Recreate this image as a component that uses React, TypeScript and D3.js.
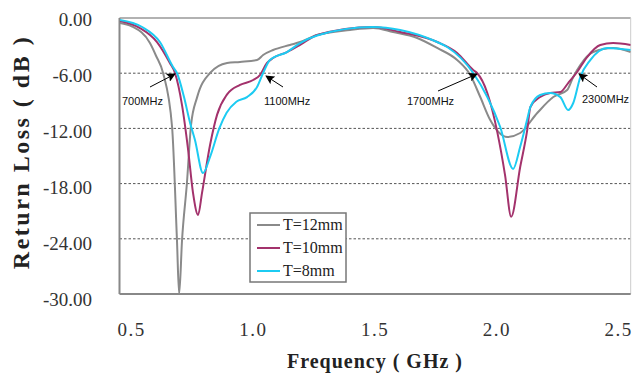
import React from "react";
import * as d3 from "d3";

const xTicks = [0.5, 1.0, 1.5, 2.0, 2.5];
const yTicks = [0, -6, -12, -18, -24, -30];
const gridValues = [-6, -12, -18, -24];

const grayF = [0.452, 0.5, 0.575, 0.6, 0.629, 0.666, 0.686, 0.695, 0.707, 0.727, 0.744, 0.769, 0.822, 0.892, 0.945, 1.015, 1.04, 1.081, 1.15, 1.192, 1.262, 1.397, 1.492, 1.574, 1.673, 1.755, 1.837, 1.891, 1.932, 1.973, 2.043, 2.096, 2.166, 2.232, 2.289, 2.314, 2.343, 2.396, 2.478, 2.55];
const grayDb = [-0.54, -0.9, -2.72, -4.1, -5.98, -11.85, -24.1, -30, -24.1, -17.93, -11.6, -8.6, -5.98, -4.89, -4.78, -4.57, -4.02, -3.48, -2.93, -2.61, -1.85, -1.3, -1.09, -1.52, -2.17, -3.26, -4.57, -6.2, -8.59, -11.09, -12.93, -12.5, -10.33, -8.59, -7.83, -6.41, -5.11, -3.7, -3.26, -3.7];

const magF = [0.452, 0.534, 0.604, 0.657, 0.678, 0.707, 0.732, 0.752, 0.773, 0.789, 0.822, 0.851, 0.892, 0.945, 0.999, 1.027, 1.056, 1.081, 1.138, 1.192, 1.262, 1.492, 1.603, 1.755, 1.837, 1.903, 1.919, 1.961, 2.002, 2.034, 2.059, 2.096, 2.125, 2.138, 2.178, 2.219, 2.261, 2.293, 2.33, 2.371, 2.425, 2.478, 2.55];
const magDb = [-0.33, -1.09, -2.61, -4.89, -5.98, -9.5, -14.35, -19.0, -21.4, -19.0, -13.8, -10.5, -8.3, -7.28, -6.74, -6.2, -4.89, -4.35, -3.7, -2.93, -1.85, -0.98, -1.52, -2.61, -3.8, -5.65, -5.98, -8.15, -12.4, -17.1, -21.6, -16.2, -12.17, -9.67, -8.59, -8.15, -8.04, -7.07, -5.87, -4.24, -2.93, -2.72, -2.93];

const cyanF = [0.452, 0.543, 0.616, 0.67, 0.686, 0.715, 0.74, 0.76, 0.793, 0.822, 0.86, 0.89, 0.93, 0.974, 1.015, 1.04, 1.068, 1.138, 1.192, 1.262, 1.49, 1.603, 1.755, 1.796, 1.903, 1.961, 2.014, 2.067, 2.096, 2.125, 2.138, 2.178, 2.219, 2.261, 2.293, 2.314, 2.343, 2.384, 2.454, 2.55];
const cyanDb = [-0.22, -0.98, -2.61, -5.33, -5.98, -8.6, -11.41, -13.26, -16.85, -15.1, -12.0, -10.3, -9.1, -8.6, -7.5, -5.98, -4.57, -3.7, -2.72, -1.9, -0.98, -1.3, -2.61, -3.15, -5.98, -8.59, -11.85, -16.4, -14.0, -11.0, -9.67, -8.37, -8.15, -8.6, -10.0, -9.24, -6.41, -4.57, -3.26, -3.48];

const seriesNames = ["T=12mm", "T=10mm", "T=8mm"];
const seriesColors = ["#8a8a8a", "#a3326c", "#1ccbf2"];

const annLabels = ["700MHz", "1100MHz", "1700MHz", "2300MHz"];

export default function App() {
  const W = 638, H = 379;
  const L = 119.5, R = 630.7, T = 18, B = 294;
  const x = d3.scaleLinear().domain([0.45, 2.55]).range([L, R]);
  const y = d3.scaleLinear().domain([0, -30]).range([T, B]);
  const yLab = d3.scaleLinear().domain([0, -30]).range([26, 306]);

  const series = [
    grayF.map((f, i) => [f, grayDb[i]]),
    magF.map((f, i) => [f, magDb[i]]),
    cyanF.map((f, i) => [f, cyanDb[i]]),
  ];
  const line = d3
    .line<number[]>()
    .x((d) => x(d[0]))
    .y((d) => y(d[1]))
    .curve(d3.curveMonotoneX);

  // annotation layout: [textX, textY, tailX, tailY, headX, headY]
  const ann = [
    [122, 105, 150, 87, 175, 74],
    [264, 105, 283, 87, 266, 76],
    [407, 105, 438, 91, 477, 74],
    [582, 103, 597, 87, 579, 74],
  ];

  return (
    <div style={{ position: "absolute", left: 0, top: 0 }}>
      <svg width={W} height={H} style={{ display: "block", background: "#fff" }}>
        <defs>
          <clipPath id="plot">
            <rect x={L} y={T - 4} width={R - L} height={B - T + 4} />
          </clipPath>
          <marker id="arr" viewBox="0 0 10 10" refX="9" refY="5" markerWidth="9" markerHeight="9" orient="auto" markerUnits="userSpaceOnUse">
            <path d="M0,0 L10,5 L0,10 L2,5 Z" fill="#000" />
          </marker>
        </defs>
        {gridValues.map((v) => (
          <line key={v} x1={L} x2={R} y1={y(v)} y2={y(v)} stroke="#555" strokeWidth={1} strokeDasharray="2.5,2" />
        ))}
        <line x1={L} x2={R} y1={T} y2={T} stroke="#999" strokeWidth={1.5} />
        <line x1={R} x2={R} y1={T} y2={B} stroke="#ccc" strokeWidth={1} />
        <line x1={L} x2={L} y1={T} y2={B} stroke="#888" strokeWidth={2} />
        <line x1={L} x2={R} y1={B} y2={B} stroke="#888" strokeWidth={2} />
        <g clipPath="url(#plot)">
          {series.map((s, i) => (
            <path key={i} d={line(s) || ""} fill="none" stroke={seriesColors[i]} strokeWidth={2} />
          ))}
        </g>
        {ann.map((a, i) => (
          <g key={i}>
            <line x1={a[2]} y1={a[3]} x2={a[4]} y2={a[5]} stroke="#000" strokeWidth={1} markerEnd="url(#arr)" />
            <text x={a[0]} y={a[1]} fontFamily="Liberation Sans, Arial, sans-serif" fontSize={11} fill="#111">
              {annLabels[i]}
            </text>
          </g>
        ))}
        <rect x={250} y={213} width={96} height={69} fill="#fff" stroke="#777" strokeWidth={1.5} />
        {seriesNames.map((n, i) => (
          <g key={n}>
            <line x1={257} x2={280} y1={225 + i * 23} y2={225 + i * 23} stroke={seriesColors[i]} strokeWidth={2} />
            <text x={283} y={230 + i * 23} fontFamily="Liberation Serif, 'Times New Roman', serif" fontSize={16} fill="#222">
              {n}
            </text>
          </g>
        ))}
        {yTicks.map((v) => (
          <text key={v} x={92} y={yLab(v)} textAnchor="end" fontFamily="Liberation Serif, 'Times New Roman', serif" fontSize={19} fill="#333">
            {v.toFixed(2)}
          </text>
        ))}
        {xTicks.map((v) => (
          <text key={v} x={x(v)} y={336} textAnchor="middle" fontFamily="Liberation Serif, 'Times New Roman', serif" fontSize={19} letterSpacing={1.5} fill="#333">
            {v.toFixed(1)}
          </text>
        ))}
        <text x={375} y={368} textAnchor="middle" fontFamily="Liberation Serif, 'Times New Roman', serif" fontWeight="bold" fontSize={20} letterSpacing={1} fill="#222">
          Frequency ( GHz )
        </text>
        <text transform="translate(29,152) rotate(-90)" textAnchor="middle" fontFamily="Liberation Serif, 'Times New Roman', serif" fontWeight="bold" fontSize={24} letterSpacing={2.5} fill="#222">
          Return Loss ( dB )
        </text>
      </svg>
    </div>
  );
}
